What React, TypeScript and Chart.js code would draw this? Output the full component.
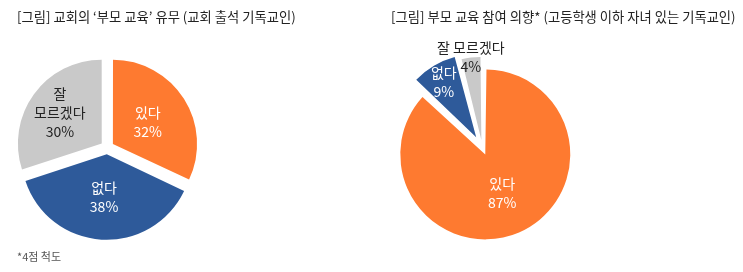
import React, { useEffect, useRef } from "react";
import { Chart, registerables } from "chart.js";

Chart.register(...registerables);

// ---- data ----
const leftTitle = "[그림] 교회의 ‘부모 교육’ 유무 (교회 출석 기독교인)";
const leftCategories: (string | string[])[] = ["있다", "없다", ["잘", "모르겠다"]];
const leftValues = [32, 38, 30];

const rightTitle = "[그림] 부모 교육 참여 의향* (고등학생 이하 자녀 있는 기독교인)";
const rightCategories: (string | string[])[] = ["있다", "없다", "잘 모르겠다"];
const rightValues = [87, 9, 4];

const footnote = "*4점 척도";

// ---- styles ----
const sliceColors = ["#FE7A30", "#2E5A9A", "#C9C9C9"];
const labelColors = ["#ffffff", "#ffffff", "#222222"];
const FONT = "'Noto Sans CJK KR', 'Noto Sans', sans-serif";

const sliceLabels = {
  id: "sliceLabels",
  afterDatasetsDraw(chart: any, _args: any, opts: any) {
    const ctx = chart.ctx;
    const meta = chart.getDatasetMeta(0);
    const ds = chart.data.datasets[0];
    ctx.save();
    ctx.font = `14px ${FONT}`;
    ctx.textAlign = "center";
    ctx.textBaseline = "middle";
    meta.data.forEach((arc: any, i: number) => {
      const p = arc.getProps(["x", "y", "startAngle", "endAngle", "outerRadius"], true);
      const mid = (p.startAngle + p.endAngle) / 2;
      const offArr = ds.offset;
      const off = (Array.isArray(offArr) ? offArr[i] : offArr || 0) / 4;
      const rr = off + opts.factors[i] * p.outerRadius;
      const cx = p.x + Math.cos(mid) * rr;
      const cy = p.y + Math.sin(mid) * rr;
      const lbl = chart.data.labels[i];
      const lines: string[] = Array.isArray(lbl) ? [...lbl] : [String(lbl)];
      lines.push(`${ds.data[i]}%`);
      const lh = 19;
      const startY = cy - ((lines.length - 1) * lh) / 2;
      ctx.fillStyle = labelColors[i];
      lines.forEach((t, j) => ctx.fillText(t, cx, startY + j * lh));
    });
    ctx.restore();
  },
};

function makeChart(
  canvas: HTMLCanvasElement,
  labels: (string | string[])[],
  values: number[],
  offsets: number[],
  radius: number,
  padding: any,
  factors: number[]
) {
  return new Chart(canvas, {
    type: "pie",
    data: {
      labels,
      datasets: [
        {
          data: values,
          backgroundColor: sliceColors,
          borderWidth: 0,
          offset: offsets,
          hoverOffset: 0,
        } as any,
      ],
    },
    options: {
      responsive: false,
      devicePixelRatio: 1,
      animation: false,
      radius,
      layout: { padding },
      plugins: {
        legend: { display: false },
        tooltip: { enabled: false },
        title: { display: false },
        sliceLabels: { factors },
      } as any,
    } as any,
    plugins: [sliceLabels as any],
  });
}

export default function App() {
  const leftRef = useRef<HTMLCanvasElement>(null);
  const rightRef = useRef<HTMLCanvasElement>(null);

  useEffect(() => {
    const c1 = makeChart(
      leftRef.current!,
      leftCategories,
      leftValues,
      [27, 27, 27],
      83.5,
      { left: 0, right: 157.6, top: 23, bottom: 0 },
      [0.495, 0.516, 0.62]
    );
    const c2 = makeChart(
      rightRef.current!,
      rightCategories,
      rightValues,
      [30, 48, 30],
      77.5,
      { left: 0, right: 149.4, top: 23, bottom: 0 },
      [0.55, 0.82, 1.08]
    );
    return () => {
      c1.destroy();
      c2.destroy();
    };
  }, []);

  const titleStyle: React.CSSProperties = {
    position: "absolute",
    top: 8,
    fontFamily: FONT,
    fontSize: 13.3,
    lineHeight: "18px",
    color: "#222",
    whiteSpace: "nowrap",
  };

  return (
    <div
      style={{
        position: "absolute",
        left: 0,
        top: 0,
        width: 743,
        height: 272,
        background: "#fff",
        overflow: "hidden",
      }}
    >
      <canvas
        ref={leftRef}
        width={372}
        height={272}
        style={{ position: "absolute", left: 0, top: 0, width: 372, height: 272 }}
      />
      <canvas
        ref={rightRef}
        width={372}
        height={272}
        style={{ position: "absolute", left: 371, top: 0, width: 372, height: 272 }}
      />
      <div style={{ ...titleStyle, left: 17 }}>{leftTitle}</div>
      <div style={{ ...titleStyle, left: 391 }}>{rightTitle}</div>
      <div
        style={{
          position: "absolute",
          left: 17,
          top: 248,
          fontFamily: FONT,
          fontSize: 11,
          lineHeight: "17px",
          color: "#555",
          whiteSpace: "nowrap",
        }}
      >
        {footnote}
      </div>
    </div>
  );
}
